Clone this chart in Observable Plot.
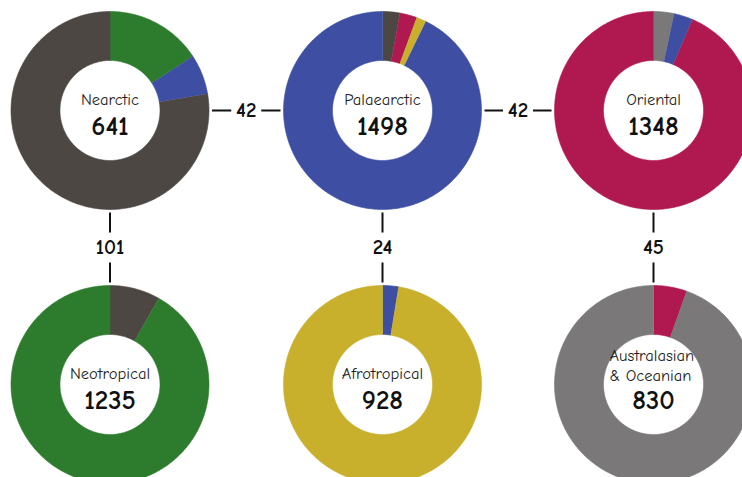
<!DOCTYPE html>
<html>
<head>
<meta charset="utf-8">
<script src="https://cdn.jsdelivr.net/npm/d3@7"></script>
<script src="https://cdn.jsdelivr.net/npm/@observablehq/plot@0.6"></script>
<style>
  html, body { margin: 0; padding: 0; background: #fff; }
  #chart svg { display: block; }
</style>
</head>
<body>
<div id="chart"></div>
<script>
// ---- data ----
const regions = ["Nearctic", "Palaearctic", "Oriental", "Neotropical", "Afrotropical", "Australasian & Oceanian"];
const labels = ["Nearctic", "Palaearctic", "Oriental", "Neotropical", "Afrotropical", "Australasian\n& Oceanian"];
const totals = [641, 1498, 1348, 1235, 928, 830];
const regionColors = ["#4d4744", "#3e4fa3", "#b01850", "#2d7c2d", "#c8af2c", "#7a7878"];

// shared species between neighbouring regions (connector numbers)
const linkFrom = ["Nearctic", "Palaearctic", "Nearctic", "Palaearctic", "Oriental"];
const linkTo = ["Palaearctic", "Oriental", "Neotropical", "Afrotropical", "Australasian & Oceanian"];
const linkCount = [42, 42, 101, 24, 45];

// order of shared wedges inside each donut (clockwise from 12 o'clock)
const wedgeOrder = {
  "Nearctic": ["Neotropical", "Palaearctic"],
  "Palaearctic": ["Nearctic", "Oriental", "Afrotropical"],
  "Oriental": ["Australasian & Oceanian", "Palaearctic"],
  "Neotropical": ["Nearctic"],
  "Afrotropical": ["Palaearctic"],
  "Australasian & Oceanian": ["Oriental"]
};

// ---- layout ----
const W = 742, H = 477;
const colX = [109.5, 382, 653];
const rowY = [110, 384];
const R = 99, r0 = 50;
const gridCol = [0, 1, 2, 0, 1, 2];
const gridRow = [0, 0, 0, 1, 1, 1];

const center = name => {
  const i = regions.indexOf(name);
  return {x: colX[gridCol[i]], y: rowY[gridRow[i]]};
};
const colorOf = name => regionColors[regions.indexOf(name)];
const shared = (a, b) => {
  for (let k = 0; k < linkFrom.length; k++)
    if ((linkFrom[k] === a && linkTo[k] === b) || (linkFrom[k] === b && linkTo[k] === a)) return linkCount[k];
  return 0;
};

// wedge polygons
const pts = [];
regions.forEach((name, i) => {
  const c = center(name);
  const total = totals[i];
  const parts = wedgeOrder[name].map(p => ({v: shared(name, p), color: colorOf(p)}));
  const rest = total - d3.sum(parts, d => d.v);
  parts.push({v: rest, color: regionColors[i]});
  let acc = 0;
  parts.forEach((p, j) => {
    const a0 = acc / total * 2 * Math.PI;
    acc += p.v;
    const a1 = acc / total * 2 * Math.PI;
    const n = Math.max(2, Math.ceil((a1 - a0) / (Math.PI / 180)));
    const id = name + "-" + j;
    for (let k = 0; k <= n; k++) {
      const a = a0 + (a1 - a0) * k / n;
      pts.push({id, color: p.color, x: c.x + R * Math.sin(a), y: c.y - R * Math.cos(a)});
    }
    for (let k = n; k >= 0; k--) {
      const a = a0 + (a1 - a0) * k / n;
      pts.push({id, color: p.color, x: c.x + r0 * Math.sin(a), y: c.y - r0 * Math.cos(a)});
    }
  });
});

// centre texts
const centreText = regions.map((name, i) => ({...center(name), label: labels[i], total: totals[i], multi: labels[i].includes("\n")}));

// connectors
const gap = 3, textHalf = 15;
const connectors = linkFrom.map((a, k) => {
  const ca = center(a), cb = center(linkTo[k]);
  const horiz = ca.y === cb.y;
  const mx = (ca.x + cb.x) / 2, my = (ca.y + cb.y) / 2;
  return {a: ca, b: cb, horiz, mx, my, n: linkCount[k]};
});
const segs = [];
connectors.forEach(c => {
  if (c.horiz) {
    segs.push({x1: c.a.x + R + gap, x2: c.mx - textHalf, y1: c.my, y2: c.my});
    segs.push({x1: c.mx + textHalf, x2: c.b.x - R - gap, y1: c.my, y2: c.my});
  } else {
    segs.push({x1: c.mx, x2: c.mx, y1: c.a.y + R + gap, y2: c.my - textHalf});
    segs.push({x1: c.mx, x2: c.mx, y1: c.my + textHalf, y2: c.b.y - R - gap});
  }
});

const font = "'Comic Sans MS', 'Comic Neue', Lato, 'DejaVu Sans', sans-serif";

const plot = Plot.plot({
  width: W, height: H, margin: 0,
  x: {domain: [0, W], range: [0, W], axis: null},
  y: {domain: [0, H], range: [0, H], axis: null},
  style: {fontFamily: font, background: "#fff"},
  marks: [
    Plot.line(pts, {x: "x", y: "y", z: "id", fill: "color", stroke: "color", strokeWidth: 0.6, curve: "linear"}),
    Plot.link(segs, {x1: "x1", y1: "y1", x2: "x2", y2: "y2", stroke: "#111", strokeWidth: 2}),
    Plot.text(connectors, {x: "mx", y: "my", text: d => String(d.n), fontSize: 21, fontWeight: "bold", fill: "#111"}),
    Plot.text(centreText.filter(d => !d.multi), {x: "x", y: "y", text: "label", dy: -11, fontSize: 16.5, fill: "#222"}),
    Plot.text(centreText.filter(d => d.multi), {x: "x", y: "y", text: "label", dy: -20, dx: -44, textAnchor: "start", lineHeight: 1.25, fontSize: 16.5, fill: "#222"}),
    Plot.text(centreText, {x: "x", y: "y", text: d => String(d.total), dy: 16, fontSize: 27, fontWeight: "bold", fill: "#111"})
  ]
});

document.getElementById("chart").appendChild(plot);
</script>
</body>
</html>
